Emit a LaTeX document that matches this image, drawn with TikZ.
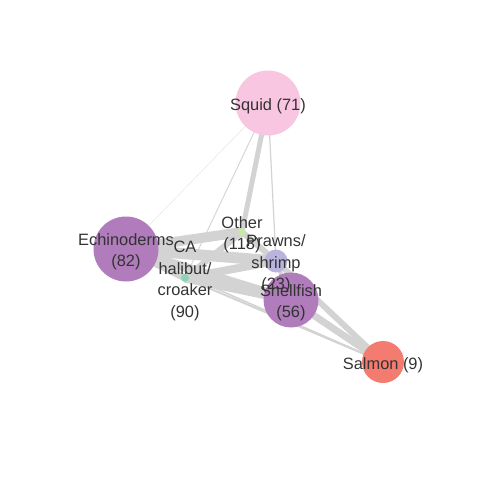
\documentclass[tikz,border=0pt]{standalone}
\usepackage{fontspec}
\setmainfont{Liberation Sans}
\usetikzlibrary{positioning}

\pgfdeclarelayer{edges}
\pgfsetlayers{edges,main}

\definecolor{squidpink}{HTML}{F8C6E1}
\definecolor{echinopurple}{HTML}{B07CBB}
\definecolor{salmonred}{HTML}{F47B6F}
\definecolor{prawnblue}{HTML}{B8B4DE}
\definecolor{othergreen}{HTML}{C7E8A8}
\definecolor{halibutteal}{HTML}{8FD3B7}
\definecolor{edgegrey}{HTML}{D3D3D3}
\definecolor{labelgrey}{HTML}{333333}

\begin{document}
\begin{tikzpicture}[
        x = 1pt, y = -1pt, % pixel-like coordinates
        species/.style = {circle, inner sep=0pt, minimum size=#1},
        lbl/.style = {text=labelgrey, align=center, yshift=-3pt,
                      font=\fontsize{16.4}{21.5}\selectfont},
        link/.style = {edgegrey, line width=#1}
        ]

  \useasboundingbox (0,0) rectangle (480,480);

  \node[species=65pt, fill=squidpink] (squid) at (268,103) {};
  \node[species=65pt, fill=echinopurple] (echino) at (126,249) {};
  \node[species=55pt, fill=echinopurple] (shell) at (291,300) {};
  \node[species=42pt, fill=salmonred] (salmon) at (383,362) {};
  \node[species=23pt, fill=prawnblue] (prawns) at (276,261) {};
  \node[species=8pt, fill=othergreen] (other) at (242,232) {};
  \node[species=8pt, fill=halibutteal] (halibut) at (185,278) {};

  \begin{pgfonlayer}{edges}
  \draw[link=0.4pt, edgegrey!70] (squid.center) -- (echino.center);
  \draw[link=0.9pt] (squid.center) -- (halibut.center);
  \draw[link=5pt] (squid.center) -- (other.center);
  \draw[link=1.2pt] (squid.center) -- (prawns.center);

  \draw[link=10pt] (echino.center) -- (other.center);
  \draw[link=11pt] (echino.center) -- (prawns.center);
  \draw[link=9pt] (echino.center) -- (shell.center);
  \draw[link=7pt] (echino.center) -- (halibut.center);
  \draw[link=1.5pt] (echino.center) -- (salmon.center);

  \draw[link=6pt] (other.center) -- (prawns.center);
  \draw[link=6pt] (other.center) -- (halibut.center);
  \draw[link=8pt] (halibut.center) -- (prawns.center);
  \draw[link=9pt] (halibut.center) -- (shell.center);
  \draw[link=2pt] (halibut.center) -- (salmon.center);

  \draw[link=4pt] (prawns.center) -- (shell.center);
  \draw[link=6pt] (prawns.center) -- (salmon.center);
  \draw[link=7pt] (shell.center) -- (salmon.center);
  \end{pgfonlayer}

  \node[lbl] (squid-lbl) at (squid) {Squid (71)};
  \node[lbl] (echino-lbl) at (echino) {Echinoderms\\(82)};
  \node[lbl] (other-lbl) at (other) {Other\\(118)};
  \node[lbl] (halibut-lbl) at (halibut) {CA\\halibut/\\croaker\\(90)};
  \node[lbl] (prawns-lbl) at (prawns) {Prawns/\\shrimp\\(23)};
  \node[lbl] (shell-lbl) at (shell) {Shellfish\\(56)};
  \node[lbl] (salmon-lbl) at (salmon) {Salmon (9)};

\end{tikzpicture}
\end{document}
